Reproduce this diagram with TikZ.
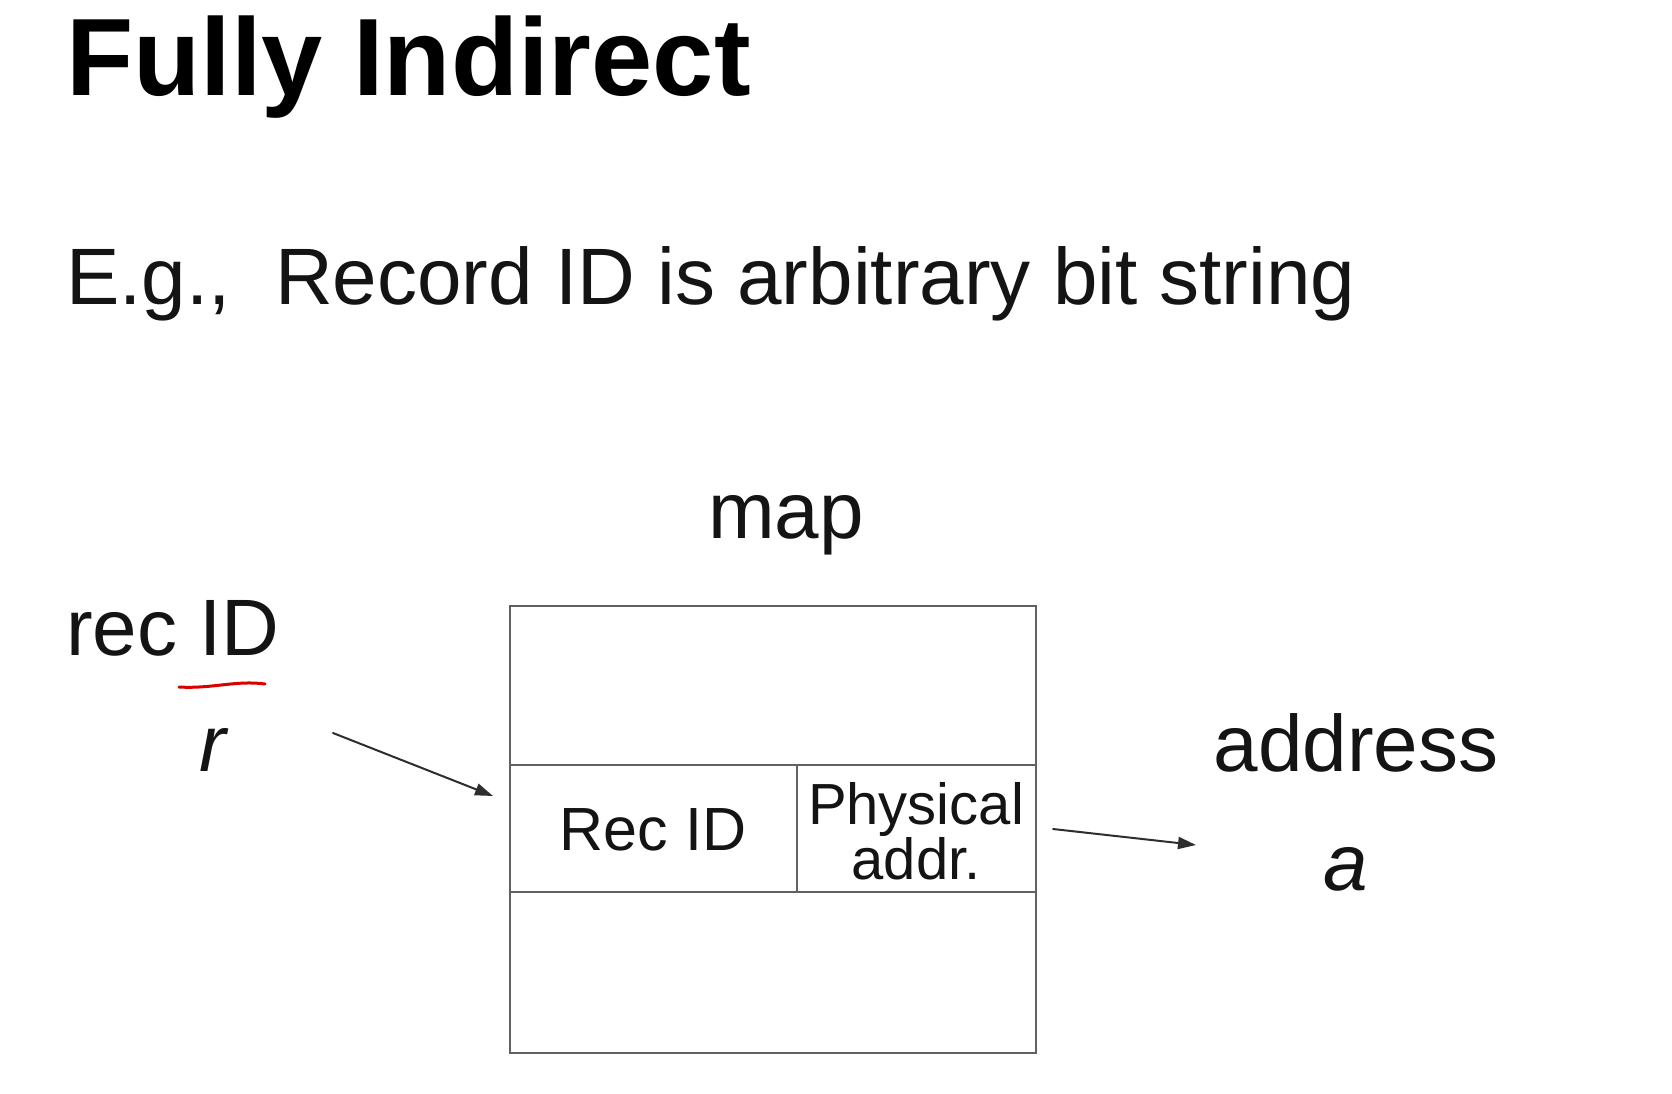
\documentclass[tikz,border=0pt]{standalone}
\usepackage{fontspec}
\setmainfont{Liberation Sans}
\usepackage{tikz}
\usetikzlibrary{arrows.meta}

\begin{document}
\begin{tikzpicture}
		[x=1pt,y=-1pt,line cap=round,
		%Styles
		heading/.style={anchor=base west,inner sep=0pt,font=\fontsize{110}{110}\selectfont\bfseries},
		body text/.style={inner sep=0pt,text=black!92,font=\fontsize{80}{80}\selectfont},
		cell text/.style={inner sep=0pt,align=center,text=black!92},
		table line/.style={line width=2.2pt,draw=black!62},
		pointer/.style={->,line width=2pt,draw=black!82,fill=black!82},
		red mark/.style={line width=3pt,draw=red!85!black},
		>={Triangle[length=18pt,width=12pt]}
		]
		
		%Colors
		\useasboundingbox[fill=white] (0,0) rectangle (1672,1094);
		
		%The text
		\node[heading] (title) at (66,96) {Fully Indirect};
		\node[body text,anchor=base west] (example) at (66,304) {E.g.,~ Record ID is arbitrary bit string};
		\node[body text,anchor=base] (map) at (786,538) {map};
		\node[body text,anchor=base west] (recname) at (66,655) {rec ID};
		\node[body text,anchor=base] (r) at (213,771) {\itshape r};
		\node[body text,anchor=base] (address) at (1356,771) {address};
		\node[body text,anchor=base] (a) at (1346,890) {\itshape a};
		
		\draw[red mark] (179,687) .. controls (212,689) and (236,680) .. (265,684);
		
		%The map
		\coordinate (map nw) at (510,606);
		\coordinate (map se) at (1036,1053);
		\draw[table line] (map nw) rectangle (map se);
		\draw[table line] (510,765) -- (1036,765) (510,892) -- (1036,892) (797,765) -- (797,892);
		
		\node[cell text,font=\fontsize{61}{61}\selectfont] (key) at (653,830) {Rec ID};
		\node[cell text,font=\fontsize{58}{48}\selectfont] (phys) at (916,831) {Physical\\addr.};
		
		%Pointers
		\coordinate (r out) at (333,733);
		\coordinate (map in) at (493,796);
		\coordinate (map out) at (1053,829);
		\coordinate (a in) at (1196,845);
		\draw[pointer] (r out) -- (map in);
		\draw[pointer] (map out) -- (a in);
	\end{tikzpicture}
\end{document}
